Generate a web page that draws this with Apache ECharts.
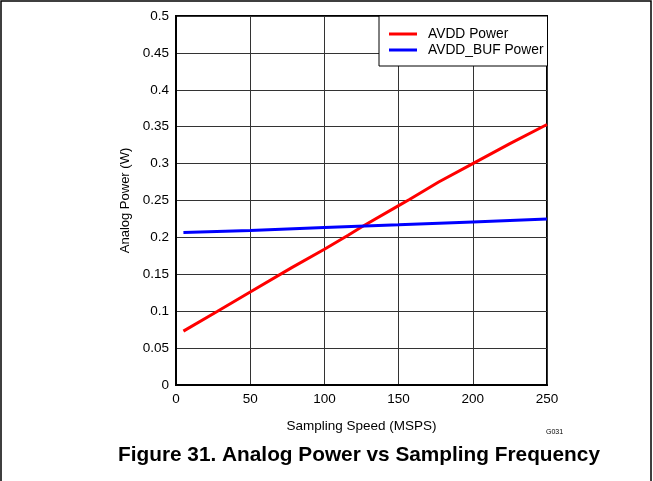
<!DOCTYPE html>
<html><head><meta charset="utf-8">
<script src="https://cdn.jsdelivr.net/npm/echarts@6/dist/echarts.min.js"></script>
<style>html,body{margin:0;padding:0;background:#fff}#c{width:653px;height:481px}</style>
</head><body><div id="c"></div>
<script>
const avddSpeed = [5, 28, 50, 78, 100, 116, 125, 150, 157, 177, 200, 225, 250];
const avddPower = [0.073, 0.100, 0.126, 0.159, 0.184, 0.203, 0.214, 0.243, 0.251, 0.275, 0.300, 0.327, 0.353];
const bufSpeed = [5, 50, 100, 150, 200, 250];
const avddBufPower = [0.2067, 0.2094, 0.2135, 0.2170, 0.2210, 0.2248];
const seriesNames = ['AVDD Power', 'AVDD_BUF Power'];
const font = 'Liberation Sans, Arial, sans-serif';
const chart = echarts.init(document.getElementById('c'));
chart.setOption({
  animation: false,
  backgroundColor: '#fff',
  grid: { left: 176, top: 16, width: 371, height: 369, show: true, borderColor: '#000', borderWidth: 2, backgroundColor: 'transparent' },
  xAxis: {
    type: 'value', min: 0, max: 250, interval: 50,
    name: 'Sampling Speed (MSPS)', nameLocation: 'middle', nameGap: 34,
    nameTextStyle: { fontFamily: font, fontSize: 13.5, color: '#000' },
    axisLine: { show: true, lineStyle: { color: '#000', width: 2 } },
    axisTick: { show: false },
    axisLabel: { fontFamily: font, fontSize: 13.5, color: '#000', margin: 7 },
    splitLine: { show: true, lineStyle: { color: '#333', width: 1 } }
  },
  yAxis: {
    type: 'value', min: 0, max: 0.5, interval: 0.05,
    name: 'Analog Power (W)', nameLocation: 'middle', nameGap: 41,
    nameTextStyle: { fontFamily: font, fontSize: 13, color: '#000' },
    axisLine: { show: true, lineStyle: { color: '#000', width: 2 } },
    axisTick: { show: false },
    axisLabel: { fontFamily: font, fontSize: 13.5, color: '#000', margin: 7, formatter: v => String(+v.toFixed(2)) },
    splitLine: { show: true, lineStyle: { color: '#333', width: 1 } }
  },
  legend: {
    orient: 'vertical', left: 379, top: 16,
    data: seriesNames,
    backgroundColor: '#fff', borderColor: '#000', borderWidth: 1,
    padding: [11, 4, 9, 10], itemGap: 2, itemWidth: 28, itemHeight: 16,
    textStyle: { fontFamily: font, fontSize: 13.8, color: '#000', padding: [0, 0, 0, 6] },
    icon: 'path://M0,6.5 L28,6.5 L28,9.5 L0,9.5 Z'
  },
  series: [
    { name: seriesNames[0], type: 'line', data: avddSpeed.map((x, i) => [x, avddPower[i]]), showSymbol: false, symbol: 'none', color: '#ff0000', lineStyle: { width: 3, color: '#ff0000' }, z: 3 },
    { name: seriesNames[1], type: 'line', data: bufSpeed.map((x, i) => [x, avddBufPower[i]]), showSymbol: false, symbol: 'none', color: '#0000ff', lineStyle: { width: 3, color: '#0000ff' }, z: 3 }
  ],
  graphic: [
    { type: 'polyline', shape: { points: [[1, 481], [1, 1], [651, 1], [651, 481]] }, style: { stroke: '#000', lineWidth: 1.5, fill: 'none' } },
    { type: 'text', x: 546, y: 429, style: { text: 'G031', font: '7px ' + font, fill: '#000' } },
    { type: 'text', x: 359, y: 455, style: { text: 'Figure 31. Analog Power vs Sampling Frequency', font: 'bold 20.8px ' + font, fill: '#000', align: 'center', verticalAlign: 'middle' } }
  ]
});
</script></body></html>
